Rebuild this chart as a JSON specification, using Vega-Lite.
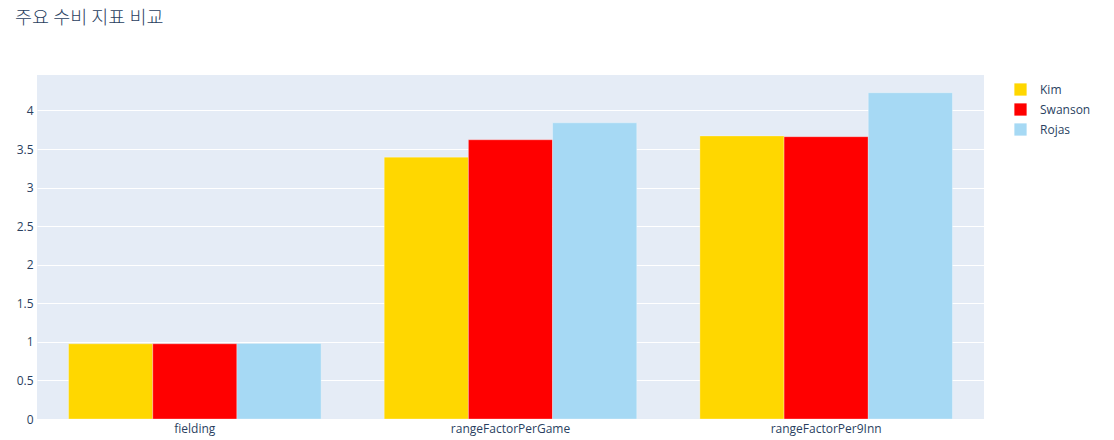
{
  "$schema": "https://vega.github.io/schema/vega-lite/v6.json",
  "width": 947,
  "height": 344,
  "autosize": {"type": "none"},
  "padding": {"left": 37, "top": 75, "right": 130, "bottom": 21},
  "background": "white",
  "title": {
    "text": "주요 수비 지표 비교",
    "anchor": "start",
    "frame": "group",
    "dx": -22,
    "offset": 48,
    "font": "Noto Sans CJK KR",
    "fontSize": 18.5,
    "fontWeight": 300,
    "color": "#2a3f5f"
  },
  "config": {
    "view": {"fill": "#E5ECF6", "stroke": null},
    "font": "Open Sans"
  },
  "data": {
    "values": [
      {"metric": "fielding", "player": "Kim", "value": 0.975},
      {"metric": "fielding", "player": "Swanson", "value": 0.975},
      {"metric": "fielding", "player": "Rojas", "value": 0.98},
      {"metric": "rangeFactorPerGame", "player": "Kim", "value": 3.395},
      {"metric": "rangeFactorPerGame", "player": "Swanson", "value": 3.62},
      {"metric": "rangeFactorPerGame", "player": "Rojas", "value": 3.84},
      {"metric": "rangeFactorPer9Inn", "player": "Kim", "value": 3.67},
      {"metric": "rangeFactorPer9Inn", "player": "Swanson", "value": 3.66},
      {"metric": "rangeFactorPer9Inn", "player": "Rojas", "value": 4.23}
    ]
  },
  "mark": {"type": "bar", "stroke": "white", "strokeWidth": 0.5, "strokeOpacity": 0.6},
  "encoding": {
    "x": {
      "field": "metric",
      "type": "nominal",
      "sort": ["fielding", "rangeFactorPerGame", "rangeFactorPer9Inn"],
      "scale": {"paddingInner": 0.2, "paddingOuter": 0.1},
      "axis": {
        "title": null,
        "labelAngle": 0,
        "ticks": false,
        "domain": false,
        "grid": false,
        "labelPadding": 4,
        "labelFont": "Open Sans",
        "labelFontSize": 12,
        "labelColor": "#2a3f5f"
      }
    },
    "xOffset": {
      "field": "player",
      "type": "nominal",
      "sort": ["Kim", "Swanson", "Rojas"],
      "scale": {"paddingInner": 0, "paddingOuter": 0}
    },
    "y": {
      "field": "value",
      "type": "quantitative",
      "scale": {"domain": [0, 4.46], "nice": false, "zero": true},
      "axis": {
        "title": null,
        "values": [0, 0.5, 1, 1.5, 2, 2.5, 3, 3.5, 4],
        "format": ".1~f",
        "ticks": false,
        "domain": false,
        "grid": true,
        "gridColor": "white",
        "gridWidth": 1,
        "labelPadding": 4,
        "labelFont": "Open Sans",
        "labelFontSize": 12,
        "labelColor": "#2a3f5f"
      }
    },
    "color": {
      "field": "player",
      "type": "nominal",
      "sort": ["Kim", "Swanson", "Rojas"],
      "scale": {
        "domain": ["Kim", "Swanson", "Rojas"],
        "range": ["#FFD700", "#FF0000", "#A6D9F4"]
      },
      "legend": {
        "title": null,
        "orient": "none",
        "legendX": 977,
        "legendY": 8,
        "symbolType": "square",
        "symbolSize": 150,
        "symbolStrokeWidth": 0,
        "labelFont": "Open Sans",
        "labelFontSize": 12,
        "labelColor": "#2a3f5f",
        "labelOffset": 13,
        "rowPadding": 7
      }
    }
  }
}
